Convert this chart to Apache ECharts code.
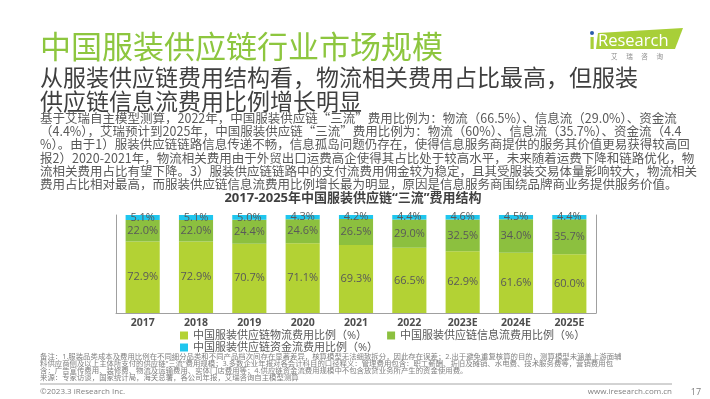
<!DOCTYPE html>
<html>
<head>
<meta charset="utf-8">
<script src="https://cdn.jsdelivr.net/npm/echarts@6/dist/echarts.min.js"></script>
<style>
  html, body { margin: 0; padding: 0; background: #fff; }
  #main { width: 710px; height: 399px; }
</style>
</head>
<body>
<div id="main"></div>
<script>
// 年份
const years = ['2017', '2018', '2019', '2020', '2021', '2022', '2023E', '2024E', '2025E'];
// 物流费用比例
const logistics = [72.9, 72.9, 70.7, 71.1, 69.3, 66.5, 62.9, 61.6, 60.0];
// 信息流费用比例
const information = [22.0, 22.0, 24.4, 24.6, 26.5, 29.0, 32.5, 34.0, 35.7];
// 资金流费用比例
const funds = [5.1, 5.1, 5.0, 4.3, 4.2, 4.4, 4.6, 4.5, 4.4];

const seriesNames = [
  '中国服装供应链物流费用比例（%）',
  '中国服装供应链信息流费用比例（%）',
  '中国服装供应链资金流费用比例（%）'
];

const bodyLines = [
  '基于艾瑞自主模型测算，2022年，中国服装供应链“三流”费用比例为：物流（66.5%）、信息流（29.0%）、资金流',
  '（4.4%），艾瑞预计到2025年，中国服装供应链“三流”费用比例为：物流（60%）、信息流（35.7%）、资金流（4.4',
  '%）。由于1）服装供应链链路信息传递不畅，信息孤岛问题仍存在，使得信息服务商提供的服务其价值更易获得较高回',
  '报2）2020-2021年，物流相关费用由于外贸出口运费高企使得其占比处于较高水平，未来随着运费下降和链路优化，物',
  '流相关费用占比有望下降。3）服装供应链链路中的支付流费用佣金较为稳定，且其受服装交易体量影响较大，物流相关',
  '费用占比相对最高，而服装供应链信息流费用比例增长最为明显，原因是信息服务商围绕品牌商业务提供服务价值。'
];

const noteLines = [
  '备注：1.服装品类成本及费用比例在不同细分品类和不同产品档次间存在显著差异，核算模型无法细致拆分，因此存在误差；2.出于避免重复核算的目的，测算模型未涵盖上游面辅',
  '料供应商侧及以上主体所支付的供应链“三流”费用规模；3.多数企业年报对各会计科目的口径释义：管理费用包含：职工薪酬、折旧及摊销、水电费、技术服务费等，营销费用包',
  '含：广告宣传费用、装修费、物流及运输费用、实体门店费用等；4.供应链资金流费用规模中不包含放贷业务所产生的资金使用费。',
  '来源：专家访谈，国家统计局，海关总署，各公司年报，艾瑞咨询自主模型测算'
];

const font = "'Open Sans', 'Noto Sans CJK SC', sans-serif";
const cjk = "'Noto Sans CJK SC', sans-serif";

const graphics = [];
// 大标题
graphics.push({
  type: 'text', x: 40, y: 46,
  style: { text: '中国服装供应链行业市场规模', fill: '#8dc63f', font: '31px ' + cjk, textVerticalAlign: 'middle' }
});
// 副标题
graphics.push({
  type: 'text', x: 40, y: 77,
  style: { text: '从服装供应链费用结构看，物流相关费用占比最高，但服装', fill: '#3f3f3f', font: '23px ' + cjk, textVerticalAlign: 'middle' }
});
graphics.push({
  type: 'text', x: 40, y: 101,
  style: { text: '供应链信息流费用比例增长明显', fill: '#3f3f3f', font: '23px ' + cjk, textVerticalAlign: 'middle' }
});
// 正文
bodyLines.forEach((t, i) => {
  graphics.push({
    type: 'text', x: 40, y: 118 + i * 13.3,
    style: { text: t, fill: '#595959', font: '12.5px ' + cjk, textVerticalAlign: 'middle' }
  });
});
// 图表标题
graphics.push({
  type: 'text', x: 353, y: 198,
  style: { text: '2017-2025年中国服装供应链“三流”费用结构', fill: '#404040', font: 'bold 13px ' + font, textAlign: 'center', textVerticalAlign: 'middle' }
});
// 备注
noteLines.forEach((t, i) => {
  graphics.push({
    type: 'text', x: 40, y: 357 + i * 7,
    style: { text: t, fill: '#7f7f7f', font: '7.4px ' + font, textVerticalAlign: 'middle' }
  });
});
// 页脚
graphics.push({ type: 'line', shape: { x1: 40, y1: 384, x2: 672, y2: 384 }, style: { stroke: '#a6a6a6', lineWidth: 1 } });
graphics.push({ type: 'text', x: 40, y: 392, style: { text: '©2023.3 iResearch Inc.', fill: '#7f7f7f', font: '8px ' + font, textVerticalAlign: 'middle' } });
graphics.push({ type: 'text', x: 672, y: 392, style: { text: 'www.iresearch.com.cn', fill: '#7f7f7f', font: '8px ' + font, textAlign: 'right', textVerticalAlign: 'middle' } });
graphics.push({ type: 'text', x: 696, y: 392, style: { text: '17', fill: '#7f7f7f', font: '9px ' + font, textAlign: 'center', textVerticalAlign: 'middle' } });
// logo
graphics.push({ type: 'polygon', shape: { points: [[598, 33], [683, 28], [675, 49], [596, 49]] }, style: { fill: '#a8cf38' } });
graphics.push({ type: 'circle', shape: { cx: 592, cy: 33, r: 2 }, style: { fill: '#2a5caa' } });
graphics.push({ type: 'rect', shape: { x: 590.5, y: 37, width: 3.2, height: 12 }, style: { fill: '#a8cf38' } });
graphics.push({ type: 'text', x: 598, y: 41, style: { text: 'Research', fill: '#fff', font: '16.5px ' + font, textVerticalAlign: 'middle' } });
graphics.push({ type: 'text', x: 637, y: 57, style: { text: '艾      瑞      咨      询', fill: '#8c8c8c', font: '6.5px ' + cjk, textAlign: 'center', textVerticalAlign: 'middle' } });

const chart = echarts.init(document.getElementById('main'));
const labelFmt = p => p.value.toFixed(1) + '%';
const barLabel = {
  show: true,
  position: 'inside',
  color: '#595959',
  fontSize: 11,
  fontFamily: font,
  formatter: labelFmt
};

chart.setOption({
  animation: false,
  backgroundColor: '#fff',
  graphic: graphics,
  legend: [
    {
      data: [seriesNames[0], seriesNames[1]],
      left: 175, top: 325,
      itemWidth: 8, itemHeight: 8, itemGap: 20,
      icon: 'rect',
      textStyle: { color: '#595959', fontSize: 11, fontFamily: font }
    },
    {
      data: [seriesNames[2]],
      left: 175, top: 337,
      itemWidth: 8, itemHeight: 8,
      icon: 'rect',
      textStyle: { color: '#595959', fontSize: 11, fontFamily: font }
    }
  ],
  grid: { left: 116, right: 114, top: 215, bottom: 86 },
  xAxis: {
    type: 'category',
    data: years,
    axisLine: { lineStyle: { color: '#a0a0a0' } },
    axisTick: { show: false },
    axisLabel: { color: '#4d4d4d', fontSize: 10.5, fontWeight: 'bold', fontFamily: font, margin: 5 }
  },
  yAxis: [
    {
      type: 'value', min: 0, max: 100,
      axisLine: { show: true, lineStyle: { color: '#a0a0a0' } },
      axisTick: { show: false }, axisLabel: { show: false }, splitLine: { show: false }
    },
    {
      type: 'value', min: 0, max: 100, position: 'right',
      axisLine: { show: true, lineStyle: { color: '#a0a0a0' } },
      axisTick: { show: false }, axisLabel: { show: false }, splitLine: { show: false }
    }
  ],
  series: [
    { name: seriesNames[0], type: 'bar', stack: 'total', barWidth: '64%', data: logistics, itemStyle: { color: '#b3d234' }, label: barLabel },
    { name: seriesNames[1], type: 'bar', stack: 'total', data: information, itemStyle: { color: '#8cc03f' }, label: barLabel },
    { name: seriesNames[2], type: 'bar', stack: 'total', data: funds, itemStyle: { color: '#1fc6ee' }, label: barLabel }
  ]
});
</script>
</body>
</html>
